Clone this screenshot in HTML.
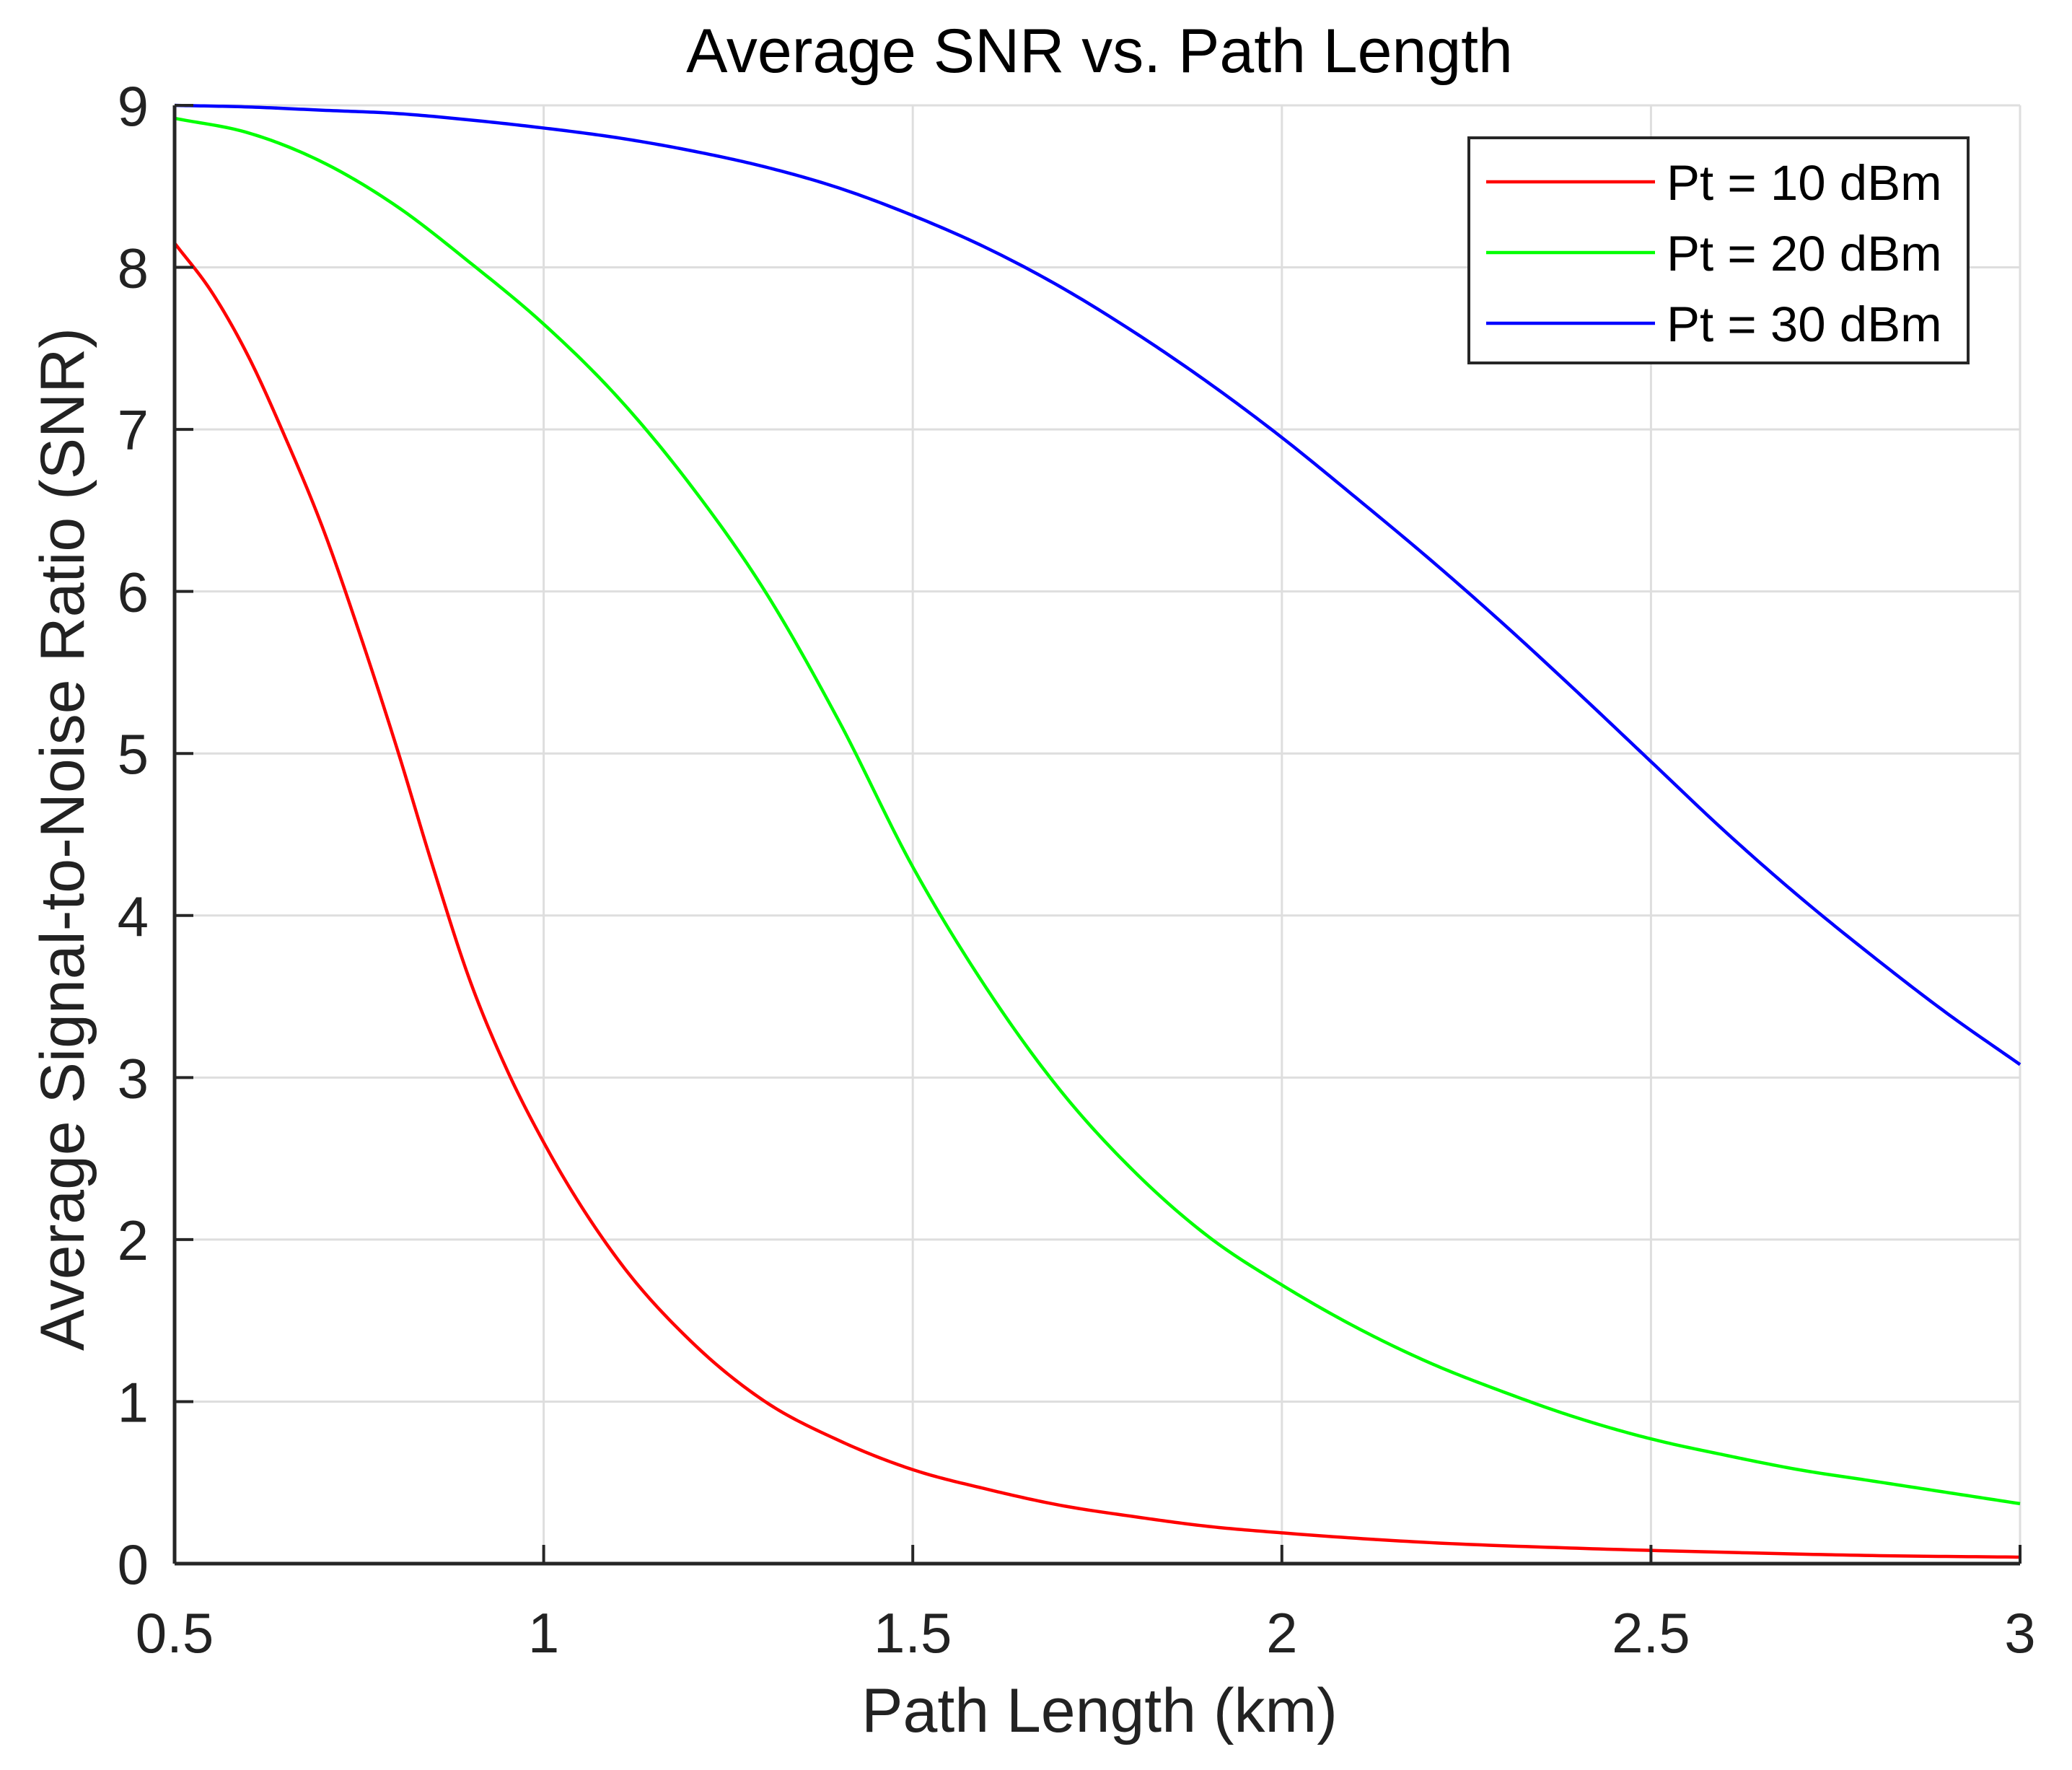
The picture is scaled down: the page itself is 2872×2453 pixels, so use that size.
<!DOCTYPE html>
<html><head><meta charset="utf-8"><style>
html,body{margin:0;padding:0;background:#fff;}
svg{display:block;font-family:"Liberation Sans",Arial,sans-serif;}
</style></head><body>
<svg id="chart" width="2872" height="2453" viewBox="0 0 2872 2453" xmlns="http://www.w3.org/2000/svg">
<rect width="2872" height="2453" fill="#fff"/>
<g id="grid"></g>
<g id="series"></g>
<g id="axes"></g>
<text x="1524" y="100" font-size="86" text-anchor="middle" fill="#000">Average SNR vs. Path Length</text>
<text x="1524" y="2400" font-size="86" text-anchor="middle" fill="#222">Path Length (km)</text>
<text transform="translate(116,1163) rotate(-90)" font-size="86" text-anchor="middle" fill="#222">Average Signal-to-Noise Ratio  (SNR)</text>
<g id="legend"></g>
</svg>
<script>
const xTicks = [0.5, 1, 1.5, 2, 2.5, 3];
const xTickLabels = ["0.5", "1", "1.5", "2", "2.5", "3"];
const yTicks = [0,1,2,3,4,5,6,7,8,9];
const yTickLabels = ["0","1","2","3","4","5","6","7","8","9"];
const seriesNames = ["Pt = 10 dBm", "Pt = 20 dBm", "Pt = 30 dBm"];
const redX = [0.5,0.55,0.6,0.65,0.7,0.75,0.8,0.85,0.9,0.95,1.0,1.1,1.2,1.3,1.4,1.5,1.6,1.7,1.8,1.9,2.0,2.2,2.4,2.6,2.8,3.0];
const redY = [8.15,7.85,7.45,6.95,6.4,5.75,5.05,4.3,3.6,3.05,2.6,1.88,1.37,1.0,0.76,0.58,0.46,0.36,0.29,0.23,0.19,0.13,0.095,0.07,0.05,0.04];
const greenX = [0.5,0.6,0.7,0.8,0.9,1.0,1.1,1.2,1.3,1.4,1.5,1.6,1.7,1.8,1.9,2.0,2.1,2.2,2.3,2.4,2.5,2.6,2.7,2.8,2.9,3.0];
const greenY = [8.92,8.83,8.65,8.38,8.03,7.65,7.2,6.65,6.0,5.2,4.3,3.55,2.92,2.42,2.02,1.72,1.46,1.24,1.06,0.9,0.77,0.67,0.58,0.51,0.44,0.37];
const blueX = [0.5,0.6,0.7,0.8,0.9,1.0,1.1,1.2,1.3,1.4,1.5,1.6,1.7,1.8,1.9,2.0,2.1,2.2,2.3,2.4,2.5,2.6,2.7,2.8,2.9,3.0];
const blueY = [9.0,8.99,8.97,8.95,8.91,8.86,8.8,8.72,8.62,8.49,8.32,8.12,7.88,7.6,7.29,6.95,6.58,6.2,5.8,5.38,4.95,4.52,4.12,3.75,3.4,3.08];

const L=242,R=2800,T=146,B=2167;
const sx=v=>L+(v-0.5)/(3-0.5)*(R-L);
const sy=v=>B-(v/9)*(B-T);
const NS="http://www.w3.org/2000/svg";
function mk(tag,attrs,parent){const e=document.createElementNS(NS,tag);for(const k in attrs)e.setAttribute(k,attrs[k]);parent.appendChild(e);return e;}
const grid=document.getElementById('grid'),axes=document.getElementById('axes'),series=document.getElementById('series'),legend=document.getElementById('legend');
xTicks.forEach((t,i)=>{
  const g=mk('line',{x1:sx(t),x2:sx(t),y1:T,y2:B,stroke:'#dedede','stroke-width':3},grid);
  
  
  const tk=mk('line',{x1:sx(t),x2:sx(t),y1:B,y2:B-26,stroke:'#262626','stroke-width':4},axes);
  
  
  const tx=mk('text',{x:sx(t),y:2290,'font-size':78,'text-anchor':'middle',fill:'#222'},axes);
  tx.textContent=xTickLabels[i];
  
  
});
yTicks.forEach((t,i)=>{
  const g=mk('line',{x1:L,x2:R,y1:sy(t),y2:sy(t),stroke:'#dedede','stroke-width':3},grid);
  
  
  const tk=mk('line',{x1:L,x2:L+26,y1:sy(t),y2:sy(t),stroke:'#262626','stroke-width':4},axes);
  
  
  const tx=mk('text',{x:206,y:sy(t)+28,'font-size':78,'text-anchor':'end',fill:'#222'},axes);
  tx.textContent=yTickLabels[i];
  
  
});
const xa=mk('line',{x1:L,x2:R,y1:B,y2:B,stroke:'#262626','stroke-width':5},axes);


const ya=mk('line',{x1:L,x2:L,y1:T,y2:B,stroke:'#262626','stroke-width':5},axes);


function smooth(xs,ys){
  const n=xs.length,m=[];
  for(let i=0;i<n;i++){
    if(i===0)m.push((ys[1]-ys[0])/(xs[1]-xs[0]));
    else if(i===n-1)m.push((ys[n-1]-ys[n-2])/(xs[n-1]-xs[n-2]));
    else{
      const d0=(ys[i]-ys[i-1])/(xs[i]-xs[i-1]),d1=(ys[i+1]-ys[i])/(xs[i+1]-xs[i]);
      const h0=xs[i]-xs[i-1],h1=xs[i+1]-xs[i];
      m.push((d0*h1+d1*h0)/(h0+h1));
    }
  }
  let d='M'+sx(xs[0])+','+sy(ys[0]);
  for(let i=0;i<n-1;i++){
    const h=xs[i+1]-xs[i];
    for(let k=1;k<=20;k++){
      const t=k/20,t2=t*t,t3=t2*t;
      const y=(2*t3-3*t2+1)*ys[i]+(t3-2*t2+t)*h*m[i]+(-2*t3+3*t2)*ys[i+1]+(t3-t2)*h*m[i+1];
      d+=' L'+sx(xs[i]+t*h).toFixed(2)+','+sy(y).toFixed(2);
    }
  }
  return d;
}
const all=[[redX,redY,'#ff0000','line-pt-10dbm'],[greenX,greenY,'#00ff00','line-pt-20dbm'],[blueX,blueY,'#0000ff','line-pt-30dbm']];
all.forEach(s=>{
  const p=mk('path',{d:smooth(s[0],s[1]),fill:'none',stroke:s[2],'stroke-width':4.5},series);
  
  
});
const box=mk('rect',{x:2036,y:191,width:692,height:312,fill:'#fff',stroke:'#262626','stroke-width':4},legend);


seriesNames.forEach((n,i)=>{
  const y=252+i*98;
  const ln=mk('line',{x1:2060,x2:2294,y1:y,y2:y,stroke:all[i][2],'stroke-width':4.5},legend);
  
  
  const tx=mk('text',{x:2310,y:y+25,'font-size':69,fill:'#000'},legend);
  tx.textContent=n;
  
  
});
</script>
</body></html>
